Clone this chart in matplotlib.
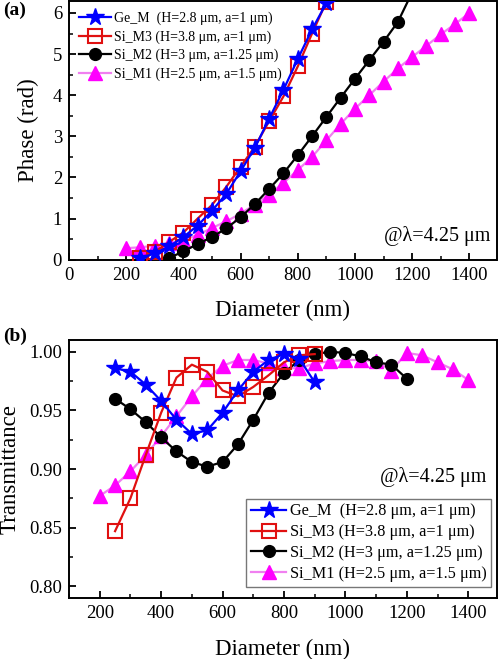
import matplotlib
matplotlib.use("Agg")
import matplotlib.pyplot as plt
from matplotlib.ticker import MultipleLocator, FormatStrFormatter

plt.rcParams['font.family'] = ['Liberation Serif', 'DejaVu Serif']
plt.rcParams['mathtext.fontset'] = 'stix'

# ---------------- data ----------------
labels = ["Ge_M  (H=2.8 μm, a=1 μm)", "Si_M3 (H=3.8 μm, a=1 μm)",
          "Si_M2 (H=3 μm, a=1.25 μm)", "Si_M1 (H=2.5 μm, a=1.5 μm)"]

d_ge = [250, 300, 350, 400, 450, 500, 550, 600, 650, 700, 750, 800, 850, 900]
d_si3 = [250, 300, 350, 400, 450, 500, 550, 600, 650, 700, 750, 800, 850, 900]
d_si2_phase = [350, 400, 450, 500, 550, 600, 650, 700, 750, 800, 850, 900,
               950, 1000, 1050, 1100, 1150, 1200]
d_si2 = [250, 300, 350, 400, 450, 500, 550, 600, 650, 700, 750, 800, 850, 900,
         950, 1000, 1050, 1100, 1150, 1200]
d_si1 = [200, 250, 300, 350, 400, 450, 500, 550, 600, 650, 700, 750, 800, 850,
         900, 950, 1000, 1050, 1100, 1150, 1200, 1250, 1300, 1350, 1400]

ph_ge = [0.04, 0.15, 0.32, 0.55, 0.83, 1.19, 1.60, 2.15, 2.72, 3.43, 4.13, 4.88, 5.60, 6.24]
ph_si3 = [0.04, 0.19, 0.43, 0.66, 1.00, 1.33, 1.77, 2.26, 2.75, 3.37, 3.97, 4.70, 5.50, 6.27]
ph_si2 = [0.04, 0.20, 0.38, 0.55, 0.76, 1.03, 1.35, 1.72, 2.10, 2.54, 3.00, 3.47,
          3.94, 4.40, 4.85, 5.30, 5.78, 6.50]
ph_si1 = [0.28, 0.30, 0.34, 0.40, 0.48, 0.60, 0.77, 0.93, 1.12, 1.34, 1.58, 1.87, 2.18,
          2.50, 2.90, 3.30, 3.67, 4.00, 4.33, 4.65, 4.93, 5.20, 5.48, 5.73, 6.00]

t_ge = [0.986, 0.983, 0.972, 0.958, 0.942, 0.930, 0.933, 0.948, 0.967, 0.983, 0.993,
        0.998, 0.994, 0.974]
t_si3 = [0.847, 0.875, 0.912, 0.948, 0.978, 0.989, 0.983, 0.967, 0.962, 0.970, 0.980,
         0.991, 0.997, 0.998]
t_si2 = [0.960, 0.951, 0.940, 0.927, 0.915, 0.906, 0.902, 0.906, 0.921, 0.942, 0.965,
         0.982, 0.993, 0.998, 1.000, 0.999, 0.996, 0.991, 0.989, 0.977]
t_si1 = [0.877, 0.886, 0.898, 0.912, 0.928, 0.945, 0.962, 0.977, 0.988, 0.993, 0.993,
         0.990, 0.986, 0.986, 0.990, 0.992, 0.993, 0.993, 0.992, 0.984, 0.999, 0.997,
         0.991, 0.985, 0.976]

annot = "@λ=4.25 μm"

# ---------------- styles ----------------
sty = [
    dict(color='#0000ff', marker='*', ms=13, mfc='#0000ff', mec='#0000ff', lw=1.6, zorder=6),
    dict(color='#e01010', marker='s', ms=9.5, mfc='none', mec='#e01010', mew=1.5, lw=1.6, zorder=5),
    dict(color='black', marker='o', ms=8.5, mfc='black', mec='black', lw=1.6, zorder=4),
    dict(color='#f080f0', marker='^', ms=10, mfc='#ff00ff', mec='#ff00ff', lw=1.6, zorder=3),
]

fig = plt.figure(figsize=(5.0, 6.59), dpi=100)
ax1 = fig.add_axes([0.138, 0.606, 0.855, 0.392])
ax2 = fig.add_axes([0.138, 0.0926, 0.855, 0.3914])

def style_axes(ax):
    for s in ax.spines.values():
        s.set_linewidth(1.4)
    ax.tick_params(which='both', direction='in', labelsize=13.5, pad=5)
    ax.tick_params(which='major', length=5, width=1.3)
    ax.tick_params(which='minor', length=3, width=1.1)

# ---- top panel ----
xs_phase = [d_ge, d_si3, d_si2_phase, d_si1]
ys_phase = [ph_ge, ph_si3, ph_si2, ph_si1]
hs = [None] * 4
for i in [3, 2, 1, 0]:
    hs[i], = ax1.plot(xs_phase[i], ys_phase[i], label=labels[i], **sty[i])
ax1.set_xlim(0, 1495)
ax1.set_ylim(0, 6.283)
ax1.xaxis.set_major_locator(MultipleLocator(200))
ax1.xaxis.set_minor_locator(MultipleLocator(100))
ax1.yaxis.set_major_locator(MultipleLocator(1))
ax1.yaxis.set_minor_locator(MultipleLocator(0.5))
style_axes(ax1)
ax1.set_xlabel("Diameter (nm)", fontsize=16.5, labelpad=12)
ax1.set_ylabel("Phase (rad)", fontsize=16.5, labelpad=10)
ax1.legend(handles=hs, loc='upper left', frameon=False, fontsize=10,
           handlelength=2.3, handletextpad=0.2, labelspacing=0.36,
           borderaxespad=0.45, borderpad=0.3)
ax1.text(0.985, 0.09, annot, transform=ax1.transAxes, ha='right', va='center',
         fontsize=14.5)
fig.text(0.006, 0.984, "(a)", fontsize=14, fontweight='bold', ha='left', va='center')

# ---- bottom panel ----
xs_t = [d_ge, d_si3, d_si2, d_si1]
ys_t = [t_ge, t_si3, t_si2, t_si1]
hs2 = [None] * 4
for i in [3, 2, 1, 0]:
    hs2[i], = ax2.plot(xs_t[i], ys_t[i], label=labels[i], **sty[i])
ax2.set_xlim(100, 1492)
ax2.set_ylim(0.79, 1.01)
ax2.xaxis.set_major_locator(MultipleLocator(200))
ax2.xaxis.set_minor_locator(MultipleLocator(100))
ax2.yaxis.set_major_locator(MultipleLocator(0.05))
ax2.yaxis.set_minor_locator(MultipleLocator(0.025))
ax2.yaxis.set_major_formatter(FormatStrFormatter('%.2f'))
style_axes(ax2)
ax2.set_xlabel("Diameter (nm)", fontsize=16.5, labelpad=12)
ax2.set_ylabel("Transmittance", fontsize=16.5, labelpad=6)
leg = ax2.legend(handles=hs2, loc='lower right', bbox_to_anchor=(0.988, 0.043),
                 frameon=True, fancybox=False, fontsize=11.7,
                 handlelength=2.2, handletextpad=0.2, labelspacing=0.3,
                 borderaxespad=0.0, borderpad=0.3)
leg.get_frame().set_edgecolor('#555555')
leg.get_frame().set_linewidth(1.0)
ax2.text(0.976, 0.47, annot, transform=ax2.transAxes, ha='right', va='center',
         fontsize=14.5)
fig.text(0.006, 0.49, "(b)", fontsize=14, fontweight='bold', ha='left', va='center')

fig.savefig("out.png", dpi=100)
